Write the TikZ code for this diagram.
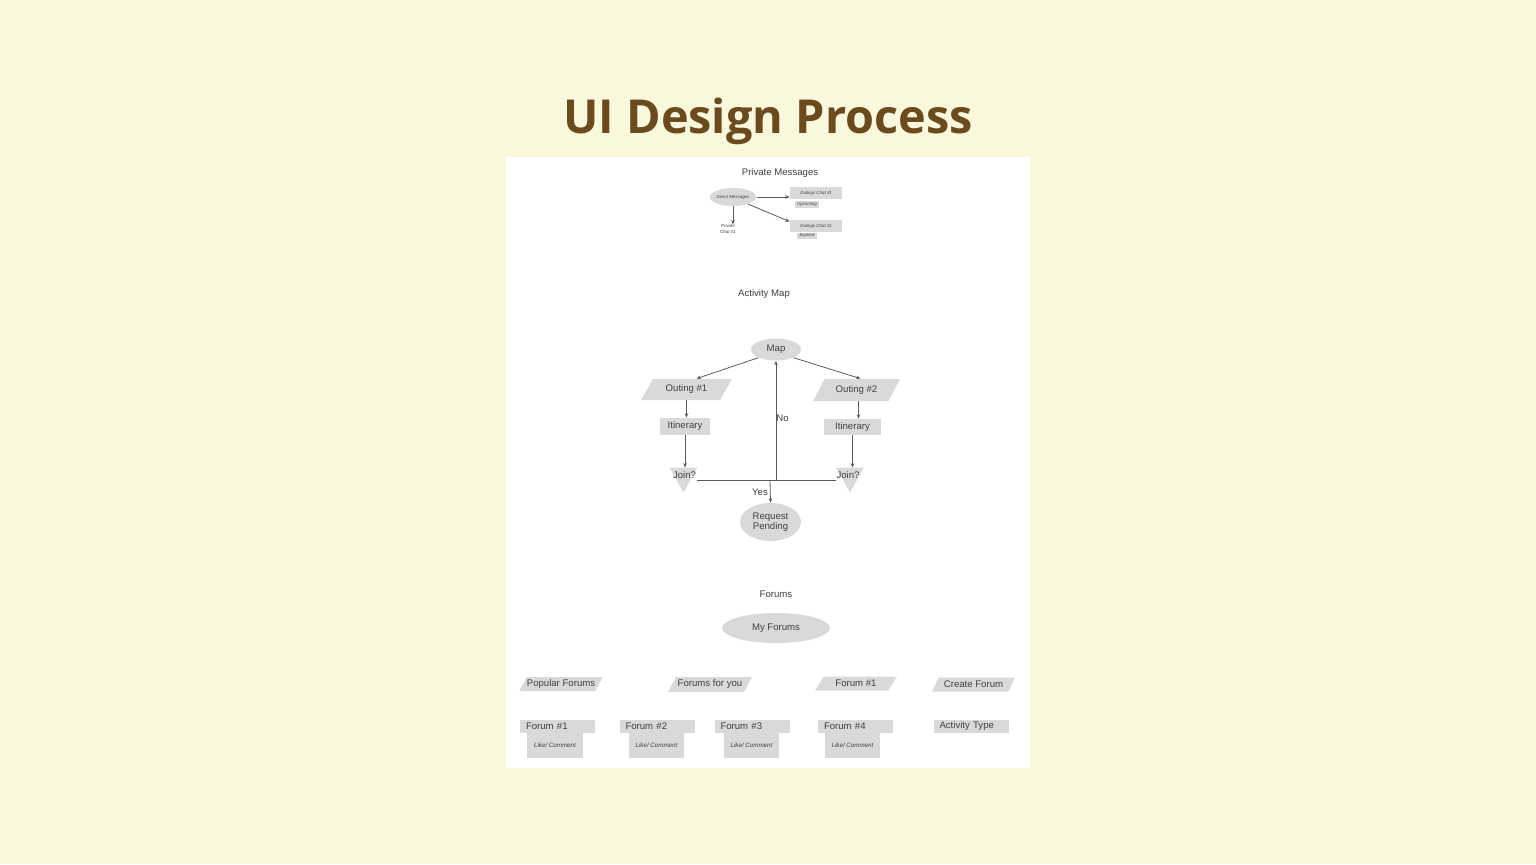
\documentclass[tikz,border=0pt]{standalone}
\usepackage{fontspec}
\setmainfont{Liberation Sans}
\newfontfamily\titlefont{Open Sans}
\usetikzlibrary{shapes.geometric,arrows.meta}

\definecolor{bgcream}{HTML}{F9F8DD}
\definecolor{titlebrown}{HTML}{6B4A1E}
\definecolor{shapegray}{HTML}{D9D9D9}
\definecolor{txtgray}{HTML}{404040}
\definecolor{linegray}{HTML}{5A5A5A}

\tikzset{
  lbl/.style={font=\fontsize{4.8}{5.2}\selectfont, text=txtgray, inner sep=0pt, align=center},
  tinylbl/.style={font=\fontsize{2.2}{2.6}\selectfont\itshape, text=txtgray, inner sep=0pt, align=center},
  likelbl/.style={font=\fontsize{3.1}{3.5}\selectfont\itshape, text=txtgray, inner sep=0pt, align=center},
  oval/.style={ellipse, fill=shapegray, inner sep=0pt},
  para/.style={trapezium, trapezium left angle=50, trapezium right angle=130,
    trapezium stretches=true, fill=shapegray, inner sep=0pt},
  grbox/.style={rectangle, fill=shapegray, inner sep=0pt},
  hdrbox/.style={rectangle, fill=shapegray, inner ysep=0pt, inner xsep=3pt,
    text width=31.5pt, minimum height=6.5pt, align=left,
    font=\fontsize{4.8}{5.2}\selectfont, text=txtgray},
  trislot/.style={rectangle, inner sep=0pt, minimum width=13.5pt, minimum height=12pt},
  conn/.style={draw=linegray, line width=0.4pt, -{Stealth[length=2.2pt,width=1.8pt]}},
  plainconn/.style={draw=linegray, line width=0.4pt}
}

\begin{document}
\begin{tikzpicture}[x=0.5pt,y=-0.5pt]
\useasboundingbox (0,0) rectangle (1536,864);
\fill[bgcream] (0,0) rectangle (1536,864);

% title
\node[font=\titlefont\bfseries\fontsize{23.4}{26}\selectfont, text=titlebrown, inner sep=0pt, anchor=base] (title) at (768,133) {UI Design Process};

% white panel
\fill[white] (506,157) rectangle (1030,768);

% ---------- Private Messages ----------
\node[lbl] (pmtitle) at (780,173) {Private Messages};
\node[oval, minimum width=23pt, minimum height=9pt, tinylbl] (dm) at (733,197) {Direct Messages};
\node[grbox, minimum width=26pt, minimum height=6pt, tinylbl] (oc1) at (816,193) {Outings Chat \#1};
\node[grbox, minimum width=12pt, minimum height=3.5pt, tinylbl] (up1) at (807,204.5) {Upcoming};
\node[grbox, minimum width=26pt, minimum height=6pt, tinylbl] (oc2) at (816,226) {Outings Chat \#1};
\node[grbox, minimum width=10pt, minimum height=3pt, tinylbl] (ex2) at (807,235.5) {Expired};
\node[tinylbl] (pc1) at (728,229) {Private\\Chat \#1};

\draw[conn] (dm.east) -- (dm.east -| oc1.west);
\draw[conn] (dm.-25) -- ([yshift=-1pt]oc2.north west);
\draw[conn] (dm.south) -- (dm.south |- pc1.north);

% ---------- Activity Map ----------
\node[lbl] (amtitle) at (764,294) {Activity Map};
\node[oval, minimum width=25pt, minimum height=11pt, lbl] (map) at (776,349.5) {Map};

\node[para, minimum width=45.5pt, minimum height=10.5pt, lbl] (out1) at (686.5,389.5) {Outing \#1};
\node[para, minimum width=43.5pt, minimum height=11pt, lbl] (out2) at (856.5,390) {Outing \#2};

\node[grbox, minimum width=25pt, minimum height=8.5pt, lbl] (it1) at (685,426.5) {Itinerary};
\node[grbox, minimum width=28.5pt, minimum height=8pt, lbl] (it2) at (852.5,427) {Itinerary};

\node[trislot] (j1) at (683.5,480) {};
\node[trislot] (j2) at (850,480) {};
\fill[shapegray] (j1.north west) -- (j1.north east) -- (j1.south) -- cycle;
\fill[shapegray] (j2.north west) -- (j2.north east) -- (j2.south) -- cycle;
\node[lbl] (jl1) at (684.5,475) {Join?};
\node[lbl] (jl2) at (848,475) {Join?};

\node[oval, minimum width=30.5pt, minimum height=19pt, lbl] (req) at (770.5,522) {Request\\Pending};

\draw[conn] (map.205) -- ([xshift=5pt]out1.north);
\draw[conn] (map.-25) -- ([xshift=2pt]out2.north);
\draw[conn] (out1.south) -- (out1.south |- it1.north);
\draw[conn] (it1.south) -- (it1.south |- j1.north);
\draw[conn] ([xshift=1pt]out2.south) -- ([xshift=1pt]out2.south |- it2.north);
\draw[conn] (it2.south) -- (it2.south |- j2.north);
\draw[plainconn] (j1.east) -- (j2.west);

\coordinate (noJ) at (776,480);
\coordinate (yesJ) at (770,480);
\draw[conn] (noJ) -- (map.south);
\draw[conn] (yesJ) -- (req.north);
\node[lbl] (nolbl) at (782.5,418) {No};
\node[lbl] (yeslbl) at (760,492) {Yes};

% ---------- Forums ----------
\node[lbl] (fmtitle) at (776,594) {Forums};
\node[oval, minimum width=54pt, minimum height=15pt, lbl] (myf) at (776,628) {My Forums};

\node[para, minimum width=41.5pt, minimum height=7pt, lbl] (pf) at (561,684) {Popular Forums};
\node[para, minimum width=42pt, minimum height=7.5pt, lbl] (ffy) at (710,684.5) {Forums for you};
\node[para, minimum width=41pt, minimum height=7pt, lbl] (f1p) at (856,683.5) {Forum \#1};
\node[para, minimum width=41.5pt, minimum height=7pt, lbl] (cf) at (973.5,684.5) {Create Forum};

\node[grbox, minimum width=28pt, minimum height=12.5pt, likelbl] (fl1) at (555,745.5) {Like/ Comment};
\node[grbox, minimum width=27.5pt, minimum height=12.5pt, likelbl] (fl2) at (656.5,745.5) {Like/ Comment};
\node[grbox, minimum width=27.5pt, minimum height=12.5pt, likelbl] (fl3) at (751.5,745.5) {Like/ Comment};
\node[grbox, minimum width=27.5pt, minimum height=12.5pt, likelbl] (fl4) at (852.5,745.5) {Like/ Comment};

\node[hdrbox] (fh1) at (557.5,726) {Forum \#1};
\node[hdrbox] (fh2) at (657,726) {Forum \#2};
\node[hdrbox] (fh3) at (752,726) {Forum \#3};
\node[hdrbox] (fh4) at (855.5,726) {Forum \#4};
\node[hdrbox] (at) at (971,726) {Activity Type};
\end{tikzpicture}
\end{document}
